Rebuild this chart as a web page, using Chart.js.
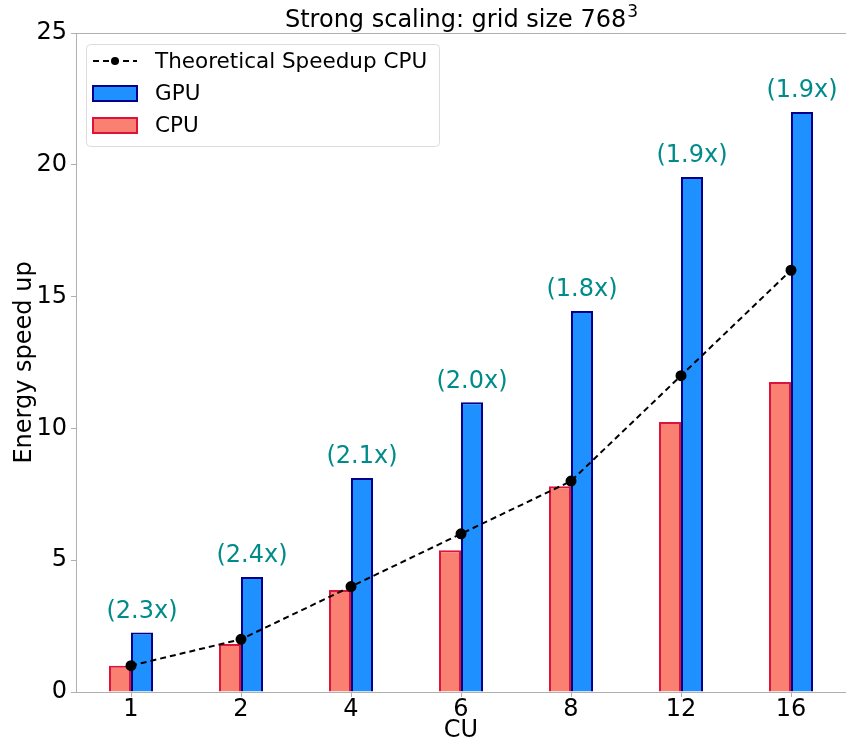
<!DOCTYPE html>
<html lang="en">
<head>
    <meta charset="UTF-8">
    <title>Strong scaling</title>
    <script src="https://cdn.jsdelivr.net/npm/chart.js@4"></script>
    <style>
        body { margin: 0; background: #fff; }
        #wrap { width: 846px; height: 741px; }
    </style>
</head>
<body>
<div id="wrap">
    <canvas id="grafico" width="846" height="741"></canvas>
</div>
<script>
    // data
    var cuLabels = ['1', '2', '4', '6', '8', '12', '16']
    var theoretical = [1, 2, 4, 6, 8, 12, 16]
    var cpuSpeedup = [1.0, 1.82, 3.87, 5.38, 7.81, 10.24, 11.76]
    var gpuSpeedup = [2.26, 4.36, 8.12, 10.99, 14.45, 19.54, 22.0]
    var ratioLabels = ['(2.3x)', '(2.4x)', '(2.1x)', '(2.0x)', '(1.8x)', '(1.9x)', '(1.9x)']
    var yTicks = [0, 5, 10, 15, 20, 25]

    var fonte = 'DejaVu Sans'
    var cinza = '#b0b0b0'

    // title, top spine, ratio labels and the legend box
    var extras = {
        id: 'extras',
        afterDatasetsDraw(chart) {
            var ctx = chart.ctx
            var area = chart.chartArea
            ctx.save()
            ctx.strokeStyle = cinza
            ctx.lineWidth = 1
            ctx.beginPath()
            ctx.moveTo(area.left, area.top + 0.5)
            ctx.lineTo(area.right, area.top + 0.5)
            ctx.stroke()

            // title with a raised 3
            ctx.fillStyle = '#000'
            ctx.textBaseline = 'alphabetic'
            ctx.textAlign = 'left'
            var titulo = 'Strong scaling: grid size 768'
            ctx.font = '24px "' + fonte + '"'
            var w1 = ctx.measureText(titulo).width
            ctx.font = '17px "' + fonte + '"'
            var w2 = ctx.measureText('3').width
            var x0 = (area.left + area.right) / 2 - (w1 + w2) / 2
            ctx.font = '24px "' + fonte + '"'
            ctx.fillText(titulo, x0, 27)
            ctx.font = '17px "' + fonte + '"'
            ctx.fillText('3', x0 + w1 + 1, 17)

            // ratio over each GPU bar
            var meta = chart.getDatasetMeta(1)
            ctx.font = '24px "' + fonte + '"'
            ctx.fillStyle = '#008b8b'
            ctx.textAlign = 'center'
            ctx.textBaseline = 'middle'
            meta.data.forEach(function (bar, i) {
                ctx.fillText(ratioLabels[i], bar.x, bar.y - 21)
            })

            // legend
            var lx = 86, ly = 44, lw = 353, lh = 102
            ctx.fillStyle = 'rgba(255,255,255,0.8)'
            ctx.strokeStyle = '#dcdcdc'
            ctx.beginPath()
            ctx.roundRect(lx + 0.5, ly + 0.5, lw, lh, 4)
            ctx.fill()
            ctx.stroke()

            ctx.font = '21.5px "' + fonte + '"'
            ctx.textAlign = 'left'
            ctx.fillStyle = '#000'
            ctx.textBaseline = 'middle'
            // line entry
            ctx.strokeStyle = '#000'
            ctx.lineWidth = 2
            ctx.setLineDash([6, 4])
            ctx.beginPath()
            ctx.moveTo(93, 61)
            ctx.lineTo(137, 61)
            ctx.stroke()
            ctx.setLineDash([])
            ctx.beginPath()
            ctx.arc(115, 61, 4, 0, Math.PI * 2)
            ctx.fill()
            ctx.fillText('Theoretical Speedup CPU', 155, 62)
            // GPU
            ctx.fillStyle = '#1e90ff'
            ctx.strokeStyle = '#00008b'
            ctx.fillRect(93, 86, 44, 15)
            ctx.strokeRect(93, 86, 44, 15)
            ctx.fillStyle = '#000'
            ctx.fillText('GPU', 155, 94)
            // CPU
            ctx.fillStyle = '#fa8072'
            ctx.strokeStyle = '#dc143c'
            ctx.fillRect(93, 118, 44, 15)
            ctx.strokeRect(93, 118, 44, 15)
            ctx.fillStyle = '#000'
            ctx.fillText('CPU', 155, 126)
            ctx.restore()
        }
    }

    var grafico = new Chart(document.getElementById('grafico'), {
        type: 'bar',
        data: {
            labels: cuLabels,
            datasets: [{
                label: 'CPU',
                data: cpuSpeedup,
                backgroundColor: '#fa8072',
                borderColor: '#dc143c',
                borderWidth: 2,
                categoryPercentage: 0.4,
                barPercentage: 1.0,
                order: 2
            }, {
                label: 'GPU',
                data: gpuSpeedup,
                backgroundColor: '#1e90ff',
                borderColor: '#00008b',
                borderWidth: 2,
                categoryPercentage: 0.4,
                barPercentage: 1.0,
                order: 2
            }, {
                type: 'line',
                label: 'Theoretical Speedup CPU',
                data: theoretical,
                borderColor: '#000',
                backgroundColor: '#000',
                borderWidth: 2,
                borderDash: [6, 4],
                pointRadius: 4.5,
                pointBackgroundColor: '#000',
                tension: 0,
                order: 0
            }]
        },
        options: {
            responsive: false,
            animation: false,
            layout: { autoPadding: false, padding: { top: 33, right: 0, left: 0, bottom: 0 } },
            plugins: {
                legend: { display: false },
                tooltip: { enabled: false }
            },
            scales: {
                x: {
                    offset: true,
                    grid: { display: true, drawOnChartArea: false, drawTicks: true, tickLength: 5, color: cinza, offset: false },
                    border: { color: cinza },
                    ticks: { color: '#000', font: { family: fonte, size: 24 }, padding: -2, maxRotation: 0 },
                    title: { display: true, text: 'CU', color: '#000', font: { family: fonte, size: 24, lineHeight: 1 }, padding: { top: 0, bottom: -2 } },
                    afterFit(scale) { scale.height = 49 }
                },
                y: {
                    min: 0,
                    max: 25,
                    afterBuildTicks(scale) { scale.ticks = yTicks.map(function (v) { return { value: v } }) },
                    grid: { display: true, drawOnChartArea: false, drawTicks: true, tickLength: 5, color: cinza },
                    border: { color: cinza },
                    ticks: { color: '#000', font: { family: fonte, size: 24 }, padding: 4 },
                    title: { display: true, text: 'Energy speed up', color: '#000', font: { family: fonte, size: 24, lineHeight: 1 }, padding: { top: 13, bottom: 0 } },
                    afterFit(scale) { scale.width = 76 }
                }
            }
        },
        plugins: [extras]
    })
</script>
</body>
</html>
